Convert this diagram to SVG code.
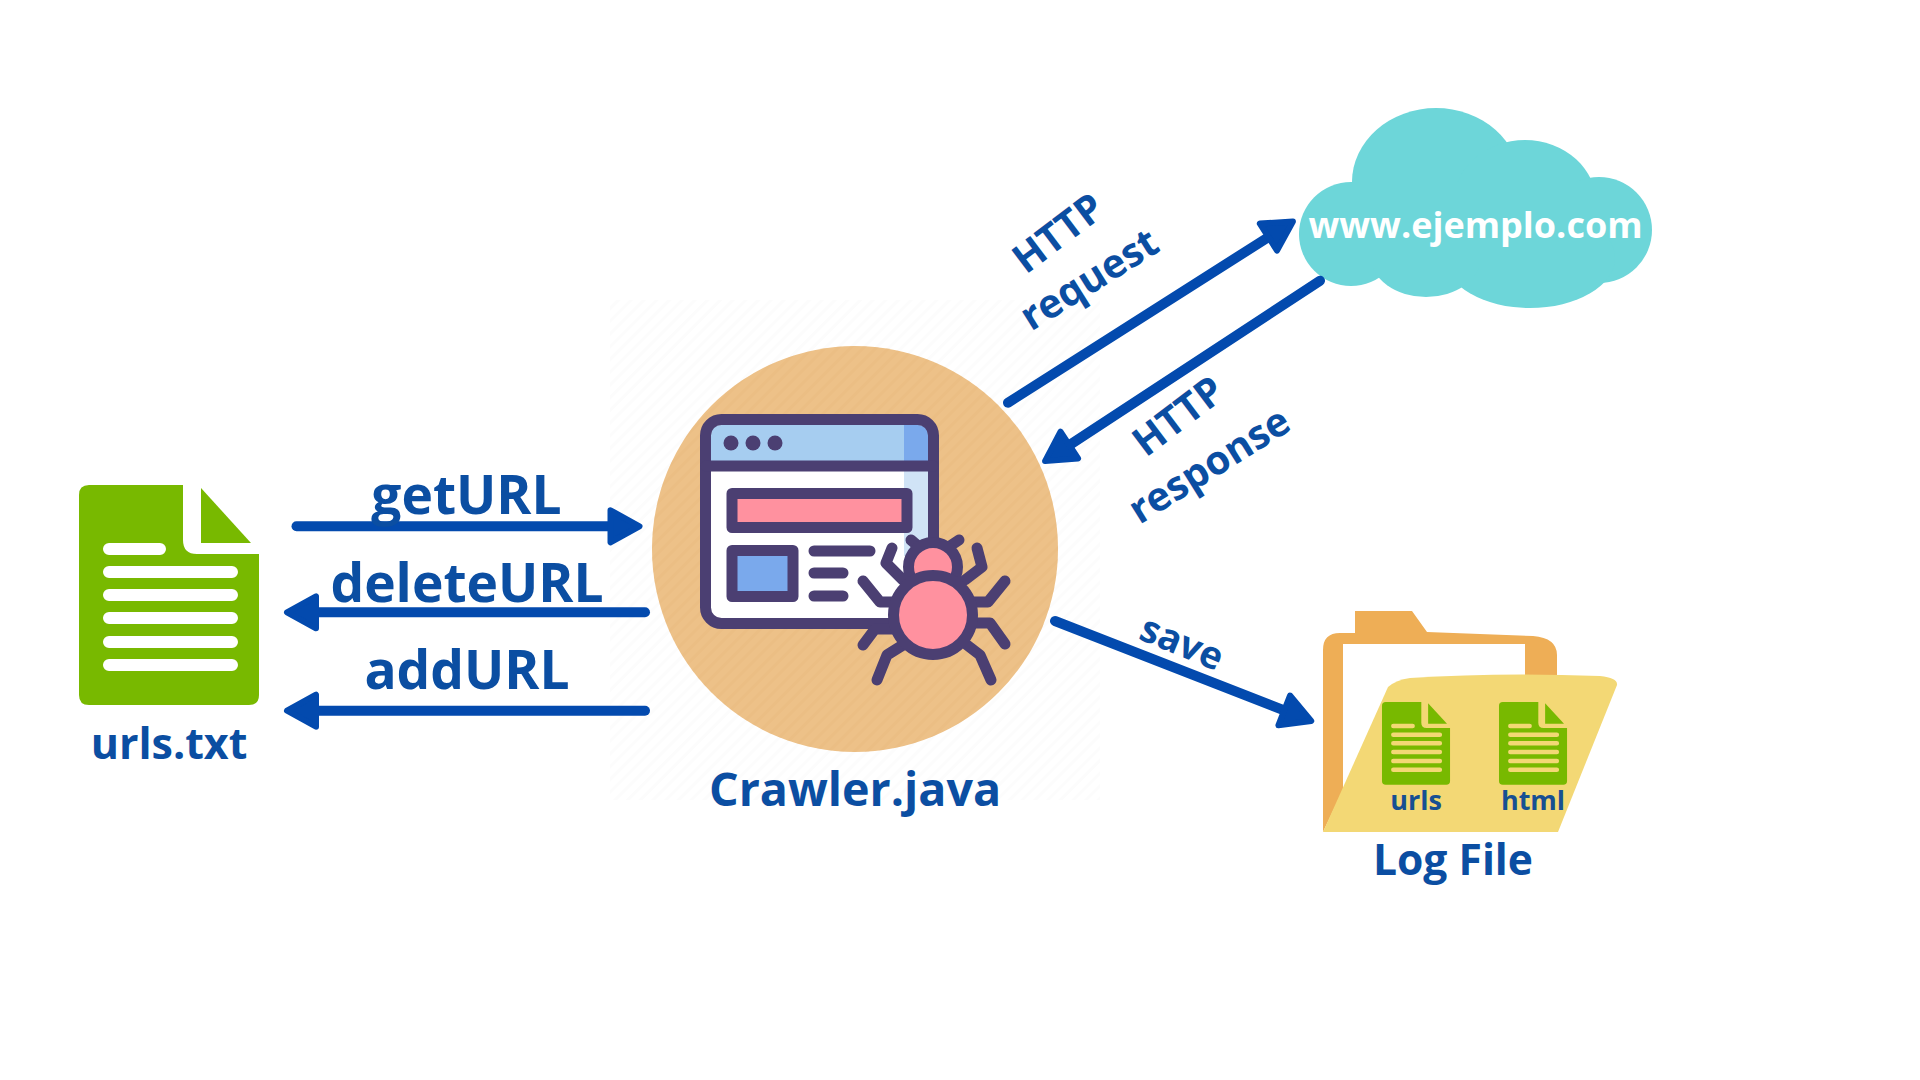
<svg xmlns="http://www.w3.org/2000/svg" xmlns:xlink="http://www.w3.org/1999/xlink" width="1920" height="1080" viewBox="0 0 1920 1080">
<style>
text{font-family:"Open Sans","Noto Sans","Liberation Sans",sans-serif;font-weight:700;fill:#0b4ea2;text-anchor:middle}
.arrow{fill:none;stroke:#034aae;stroke-width:10;stroke-linecap:round}
.ink{fill:none;stroke:#4b3f72;stroke-width:11;stroke-linecap:round;stroke-linejoin:round}
.box{stroke:#4b3f72;stroke-width:11;stroke-linejoin:round}
.lobe{fill:#6dd6d9}
</style>
<defs>
<marker id="head" markerUnits="userSpaceOnUse" markerWidth="50" markerHeight="50" refX="25" refY="25" orient="auto" overflow="visible">
<path d="M3,9 L32,25 L3,41 Z" fill="#034aae" stroke="#034aae" stroke-width="6" stroke-linejoin="round"/>
</marker>
<pattern id="hatch" patternUnits="userSpaceOnUse" width="9" height="9" patternTransform="rotate(-45)">
<rect width="9" height="3" fill="#fcfcfc"/>
</pattern>
<pattern id="hatch2" patternUnits="userSpaceOnUse" width="9" height="9" patternTransform="rotate(-45)">
<rect width="9" height="3" fill="#e6b67c" opacity=".35"/>
</pattern>
<g id="doc">
<path d="M89,485 H183 V540 Q183,554 197,554 H259 V695 Q259,705 249,705 H89 Q79,705 79,695 V495 Q79,485 89,485 Z" fill="#78b900"/>
<path d="M201,488 L251,543 H201 Z" fill="#78b900"/>
<g fill="none" stroke="currentColor" stroke-width="12" stroke-linecap="round">
<path d="M109,549 H160 M109,572 H232 M109,595 H232 M109,618 H232 M109,642 H232 M109,665 H232"/>
</g>
</g>
</defs>
<rect width="1920" height="1080" fill="#fff"/>
<rect x="610" y="300" width="490" height="500" fill="url(#hatch)"/>

<g id="urls-txt">
<use xlink:href="#doc" href="#doc" color="#ffffff"/>
<text x="169" y="759" font-size="43">urls.txt</text>
</g>

<g id="crawler">
<circle cx="855" cy="549" r="203" fill="#edc188"/>
<circle cx="855" cy="549" r="203" fill="url(#hatch2)"/>
<rect x="705.5" y="419.5" width="228" height="204" rx="16" fill="#fff"/>
<path d="M711,470 V436 Q711,425 722,425 H917 Q928,425 928,436 V470 Z" fill="#a6cdf0"/>
<path d="M904,425 H917 Q928,425 928,436 V466 H904 Z" fill="#7aa9ec"/>
<rect x="904" y="466" width="24" height="90" fill="#d0e3f6"/>
<rect x="705.5" y="419.5" width="228" height="204" rx="16" class="ink"/>
<path d="M706,466 H933" class="ink"/>
<circle cx="731" cy="443" r="7.5" fill="#4b3f72"/>
<circle cx="753" cy="443" r="7.5" fill="#4b3f72"/>
<circle cx="775" cy="443" r="7.5" fill="#4b3f72"/>
<rect x="732" y="493.5" width="175" height="34" fill="#ff919f" class="box"/>
<rect x="732" y="550.5" width="61" height="46" fill="#7aa9ec" class="box"/>
<path d="M814,551 H870 M814,573 H843 M814,596 H843" class="ink"/>
<g id="bug">
<path d="M911,540 L918,546 M959,540 L950,546" class="ink"/>
<path d="M892,548 L886,563 L903,580 M977,548 L982,567 L965,580 M863,581 L880,602 H897 M1005,581 L988,602 H973 M863,645 L875,629 H893 M1005,644 L990,623 H973 M877,680 L887,655 L903,645 M991,680 L980,655 L967,645" class="ink"/>
<circle cx="933" cy="567" r="24.5" fill="#ff919f" stroke="#4b3f72" stroke-width="11"/>
<circle cx="933" cy="615" r="39.5" fill="#ff919f" stroke="#4b3f72" stroke-width="11"/>
</g>
<text x="855" y="806" font-size="46.6">Crawler.java</text>
</g>

<g id="website">
<g class="lobe">
<circle cx="1351" cy="234" r="52"/>
<ellipse cx="1436" cy="182" rx="84" ry="74"/>
<ellipse cx="1525" cy="205" rx="72" ry="65"/>
<circle cx="1599" cy="230" r="53"/>
<ellipse cx="1530" cy="258" rx="85" ry="50"/>
<ellipse cx="1426" cy="257" rx="55" ry="40"/>
<rect x="1351" y="182" width="248" height="85"/>
</g>
<text x="1475.5" y="238" font-size="36" style="fill:#fff">www.ejemplo.com</text>
</g>

<g id="log-file">
<path d="M1355,611 H1412 L1427,632 L1533,636 Q1557,638 1557,655 V680 H1525 V644 H1343 V790 L1323,832 V650 Q1323,633 1340,633 H1355 Z" fill="#eeae56"/>
<path d="M1323,832 H1558 L1617,685 Q1618,678 1600,676 Q1500,672 1410,678 Q1396,680 1388,687 Z" fill="#f3d875"/>
<use xlink:href="#doc" href="#doc" color="#f3d875" transform="translate(1382,702) scale(.378,.376) translate(-79,-485)"/>
<use xlink:href="#doc" href="#doc" color="#f3d875" transform="translate(1499,702) scale(.378,.376) translate(-79,-485)"/>
<text x="1416" y="810" font-size="27" style="fill:#174f92">urls</text>
<text x="1533" y="810" font-size="27" style="fill:#174f92">html</text>
<text x="1453" y="875" font-size="42.6">Log File</text>
</g>

<g id="connectors">
<path d="M296.5,526.3 H632.5" class="arrow" marker-end="url(#head)"/>
<path d="M645,612.3 H294" class="arrow" marker-end="url(#head)"/>
<path d="M645,710.7 H294" class="arrow" marker-end="url(#head)"/>
<path d="M1008,402.7 L1287,225.3" class="arrow" marker-end="url(#head)"/>
<path d="M1320,280.7 L1050.9,457.2" class="arrow" marker-end="url(#head)"/>
<path d="M1055,621 L1304.7,718.4" class="arrow" marker-end="url(#head)"/>
</g>

<g id="connector-labels">
<text x="466.5" y="514" font-size="53.3">getURL</text>
<text x="467" y="601.7" font-size="53.3">deleteURL</text>
<text x="467" y="689" font-size="53.3">addURL</text>
<text transform="translate(1058,233) rotate(-37)" y="14" font-size="40">HTTP</text>
<text transform="translate(1089,279) rotate(-32)" y="14" font-size="40">request</text>
<text transform="translate(1178,416) rotate(-37)" y="14" font-size="40">HTTP</text>
<text transform="translate(1209,465) rotate(-32)" y="14" font-size="40">response</text>
<text transform="translate(1182,643) rotate(22.5)" y="13" font-size="38">save</text>
</g>
</svg>
